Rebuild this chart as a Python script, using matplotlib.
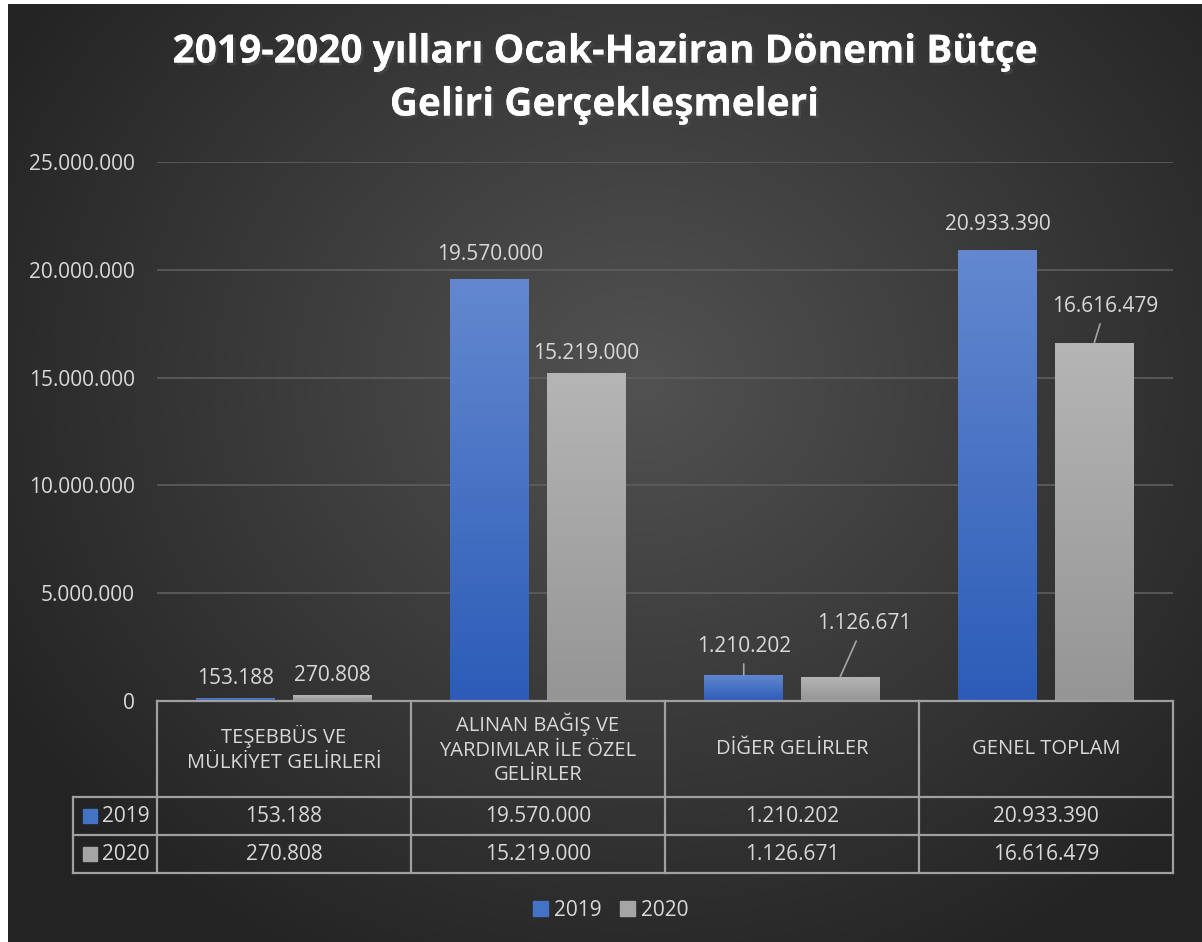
import numpy as np
import matplotlib
matplotlib.use("Agg")
import matplotlib.pyplot as plt
from matplotlib.patches import Patch, Rectangle
from matplotlib.colors import LinearSegmentedColormap
import matplotlib.transforms as mtransforms
import matplotlib.patheffects as pe

# data
categories = ["TEŞEBBÜS VE\nMÜLKİYET GELİRLERİ",
              "ALINAN BAĞIŞ VE\nYARDIMLAR İLE ÖZEL\nGELİRLER",
              "DİĞER GELİRLER",
              "GENEL TOPLAM"]
series_names = ["2019", "2020"]
values_2019 = [153188, 19570000, 1210202, 20933390]
values_2020 = [270808, 15219000, 1126671, 16616479]
yticks = [0, 5000000, 10000000, 15000000, 20000000, 25000000]


def fmt(v):
    return f"{v:,}".replace(",", ".")


plt.rcParams['font.family'] = ['Open Sans', 'DejaVu Sans']
txt = '#d9d9d9'
fs = 15

W, H = 1202, 942
fig = plt.figure(figsize=(W / 100, H / 100), dpi=100)

# background: white frame + radial dark gradient
bg = fig.add_axes([0, 0, 1, 1], zorder=-10)
bg.axis('off')
yy, xx = np.mgrid[0:H, 0:W]
r = np.sqrt(((xx - 640) / 700.0) ** 2 + ((yy - 380) / 620.0) ** 2)
shade = np.clip(0.32 - 0.17 * r, 0.14, 0.32)
img = np.dstack([shade, shade, shade])
img[:, :8] = 1.0
img[:4, :] = 1.0
bg.imshow(img, extent=[0, 1, 0, 1], aspect='auto', interpolation='bilinear')

# main axes
x0, x1, ytop, ybot = 157, 1173, 162, 701
ax = fig.add_axes([x0 / W, (H - ybot) / H, (x1 - x0) / W, (ybot - ytop) / H])
ax.patch.set_alpha(0)
for s in ax.spines.values():
    s.set_visible(False)

x = np.arange(len(categories))
bw, off = 0.31, 0.19
blue_cm = LinearSegmentedColormap.from_list('b', ['#2c5cb8', '#6388cf'])
gray_cm = LinearSegmentedColormap.from_list('g', ['#959595', '#b5b5b5'])

bars19 = ax.bar(x - off, values_2019, bw, color='#4472c4', zorder=3)
bars20 = ax.bar(x + off, values_2020, bw, color='#a5a5a5', zorder=3)

grad = np.linspace(0, 1, 256).reshape(-1, 1)
for bars, cm in ((bars19, blue_cm), (bars20, gray_cm)):
    for b in bars:
        bx, by = b.get_x(), b.get_y()
        bw_, bh = b.get_width(), b.get_height()
        im = ax.imshow(grad, cmap=cm, origin='lower', aspect='auto',
                       extent=[bx, bx + bw_, by, by + bh], zorder=4)
        im.set_clip_path(b)
ax.set_xlim(-0.5, len(categories) - 0.5)
ax.set_ylim(0, 25000000)

ax.set_yticks(yticks)
ax.set_yticklabels([fmt(v) if v else "0" for v in yticks], color=txt, fontsize=fs)
ax.tick_params(axis='y', length=0, pad=16)
ax.set_xticks([])
ax.grid(axis='y', color='#5e5e5e', linewidth=1.2, zorder=0)
ax.set_axisbelow(True)

# data labels: (dx, dy) in points from bar top, leader line flag
label_offsets_19 = [(0, 10, False), (0, 14, False), (0, 16.5, True), (0, 14, False)]
label_offsets_20 = [(0, 10, False), (0, 10, False), (17, 34, True), (8, 22, True)]
for bars, vals, offs in ((bars19, values_2019, label_offsets_19),
                         (bars20, values_2020, label_offsets_20)):
    for b, v, (dx, dy, leader) in zip(bars, vals, offs):
        xc = b.get_x() + b.get_width() / 2
        ax.annotate(fmt(v), (xc, v), xytext=(dx, dy), textcoords='offset points',
                    ha='center', va='baseline', color=txt, fontsize=fs, zorder=6,
                    arrowprops=dict(arrowstyle='-', color='#a6a6a6', lw=1.2,
                                    shrinkA=3, shrinkB=0) if leader else None)

# data table under the axes
trans = mtransforms.blended_transform_factory(ax.transData, ax.transAxes)
ph = ybot - ytop


def fy(py):
    return (ybot - py) / ph


row_y = [701, 797, 835, 873]
left_x = -0.5 - (x0 - 73) / ((x1 - x0) / len(categories))
lc = '#a0a0a0'
kw = dict(transform=trans, color=lc, lw=1.6, clip_on=False, zorder=5)
ax.plot([-0.5, 3.5], [fy(701)] * 2, **kw)
for py in row_y[1:]:
    ax.plot([left_x, 3.5], [fy(py)] * 2, **kw)
for ex in np.arange(-0.5, 4.0, 1.0):
    ax.plot([ex, ex], [fy(701), fy(873)], **kw)
ax.plot([left_x, left_x], [fy(797), fy(873)], **kw)

for i, c in enumerate(categories):
    ax.text(i, fy(749), c, transform=trans, ha='center', va='center',
            color=txt, fontsize=fs - 0.5, linespacing=1.3)
for r_i, (name, vals, col) in enumerate(((series_names[0], values_2019, '#4472c4'),
                                         (series_names[1], values_2020, '#a5a5a5'))):
    yc = fy((row_y[r_i + 1] + row_y[r_i + 2]) / 2)
    for i, v in enumerate(vals):
        ax.text(i, yc, fmt(v), transform=trans, ha='center', va='center',
                color=txt, fontsize=fs)
    ax.add_patch(Rectangle((left_x + 10 / 254, yc - 7 / ph), 14 / 254, 14 / ph,
                           transform=trans, color=col, clip_on=False, zorder=6))
    ax.text(left_x + 29 / 254, yc, name, transform=trans, ha='left', va='center',
            color=txt, fontsize=fs)

# legend
handles = [Patch(color='#4472c4', label=series_names[0]),
           Patch(color='#a5a5a5', label=series_names[1])]
leg = fig.legend(handles=handles, loc='center', bbox_to_anchor=(611 / W, (H - 910) / H),
                 ncol=2, frameon=False, fontsize=fs, handlelength=0.7, handleheight=0.7,
                 handletextpad=0.3, columnspacing=0.9)
for t in leg.get_texts():
    t.set_color(txt)

# title
shadow = [pe.withSimplePatchShadow(offset=(2, -2), alpha=0.6), pe.Normal()]
fig.text(604 / W, (H - 52) / H, "2019-2020 yılları Ocak-Haziran Dönemi Bütçe",
         ha='center', va='center', color='white', fontsize=28, fontweight='bold',
         path_effects=shadow)
fig.text(604 / W, (H - 105) / H, "Geliri Gerçekleşmeleri",
         ha='center', va='center', color='white', fontsize=28, fontweight='bold',
         path_effects=shadow)

fig.savefig("out.png", dpi=100)
